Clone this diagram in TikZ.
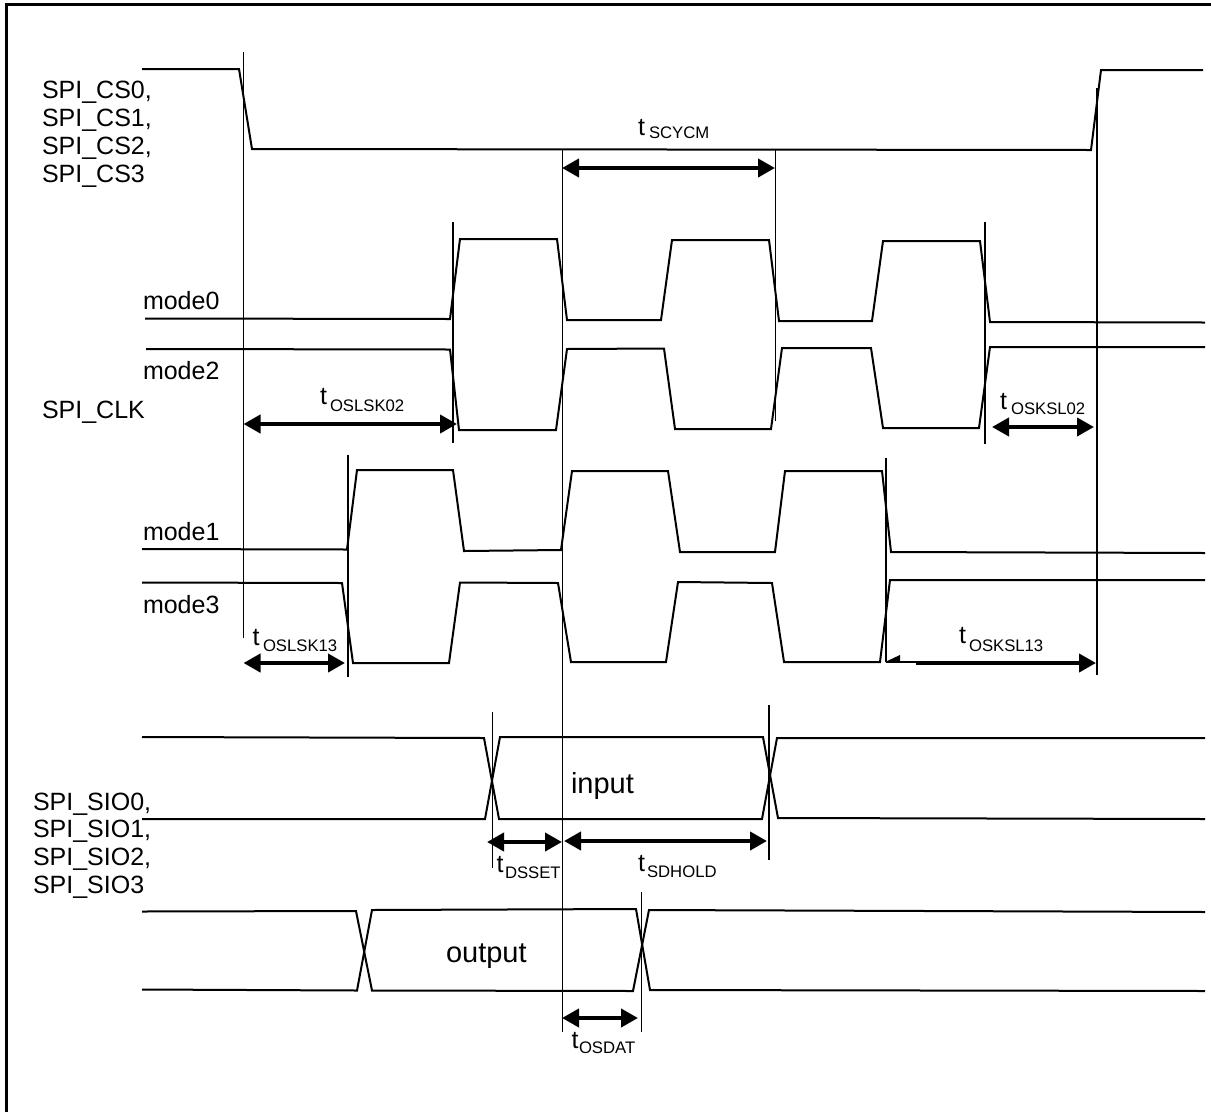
\documentclass[tikz,border=0pt]{standalone}
\usepackage{fontspec}
\setmainfont{Liberation Sans}
\usetikzlibrary{arrows.meta}
\tikzset{
  lbl/.style={inner sep=0pt,outer sep=0pt,anchor=base west,font=\fontsize{25}{27}\selectfont,text=black},
  big/.style={lbl,font=\fontsize{29}{31}\selectfont},
  subs/.style={lbl,font=\fontsize{16.7}{18}\selectfont},
  wave/.style={line width=2pt,line join=miter,black},
  guide/.style={line width=1.2pt,black},
  frameline/.style={line width=3pt,black},
  dim/.style={line width=4pt,{Triangle[length=17pt,width=18pt]}-{Triangle[length=17pt,width=18pt]}},
}
\begin{document}
\begin{tikzpicture}[x=1pt,y=-1pt]
\useasboundingbox (0,0) rectangle (1211,1112);
% frame
\draw[frameline] (6,1112) -- (6,4) -- (1211,4);
% chip select
\draw[wave] (142,69) -- (239,69) -- (252,149) -- (1091,150) -- (1101,70) -- (1203,70);
% clock mode0 / mode2
\draw[wave] (145,318.5) -- (450,319) -- (460,239) -- (557,239) -- (567,320) -- (661,320) -- (672,240) -- (769,240) -- (779,321) -- (872,321) -- (883,241) -- (980,241) -- (990,322) -- (1205,322.5);
\draw[wave] (146,349) -- (450,349.5) -- (459,430) -- (556,430) -- (567,349) -- (664,348.5) -- (675,429) -- (771,429) -- (782,348) -- (871,348) -- (883,428) -- (979,428) -- (990,347) -- (1205,347);
% clock mode1 / mode3
\draw[wave] (142,549) -- (347,549.5) -- (357,470) -- (453,470) -- (464,551) -- (561,550) -- (572,471) -- (668,471) -- (680,552) -- (775,552) -- (785,471) -- (882,471) -- (891,552) -- (1205,553);
\draw[wave] (142,582.5) -- (342,583) -- (353,663) -- (449,663) -- (460,582.5) -- (558,583) -- (571,662) -- (666,662) -- (678,582) -- (772,583) -- (784,662) -- (880,662) -- (890,580) -- (1205,580);
% input data
\draw[wave] (142,737) -- (484,738) -- (499,819) -- (762,819) -- (777,738) -- (1205,738);
\draw[wave] (142,819) -- (485,819) -- (500,737) -- (763,737) -- (778,818) -- (1205,819);
% output data
\draw[wave] (142,911.5) -- (356,911) -- (372,990.5) -- (633,991) -- (649,910) -- (1205,912);
\draw[wave] (142,989.5) -- (357,990.5) -- (372,910) -- (636,909) -- (650,990) -- (1205,991);
% guides
\draw[guide] (243.5,52) -- (243.5,638);
\draw[guide] (1097,88) -- (1097,675);
\draw[guide] (562.5,149) -- (562.5,1032);
\draw[guide] (775.5,149) -- (775.5,421);
\draw[guide] (453,222) -- (453,443);
\draw[guide] (985,222) -- (985,444);
\draw[guide] (348,455) -- (348,677);
\draw[guide] (886,458) -- (886,662);
\draw[guide] (492.5,712) -- (492.5,868);
\draw[guide] (769,705) -- (769,860);
\draw[guide] (641.5,892) -- (641.5,1032);
% dimension arrows
\draw[dim] (562,168) -- (775,168);
\draw[dim] (243.5,424) -- (457,424);
\draw[dim] (992,427) -- (1094,427);
\draw[dim] (243.5,663) -- (345,663);
\draw[dim] (487,842) -- (562,842);
\draw[dim] (564,841) -- (767,841);
\draw[dim] (562,1018) -- (638,1018);
\draw[line width=1.2pt] (886,662) -- (916,662);
\fill (885,662) -- (900,655) -- (900,662) -- cycle;
\draw[line width=4pt,-{Triangle[length=17pt,width=18pt]}] (916,663) -- (1096,663);
% signal labels
\node[lbl] (cs0) at (42,98) {SPI\_CS0,};
\node[lbl] (cs1) at (42,126) {SPI\_CS1,};
\node[lbl] (cs2) at (42,154) {SPI\_CS2,};
\node[lbl] (cs3) at (42,182) {SPI\_CS3};
\node[lbl] (m0) at (143,309) {mode0};
\node[lbl] (m2) at (143,379) {mode2};
\node[lbl] (clk) at (42,418) {SPI\_CLK};
\node[lbl] (m1) at (143,540) {mode1};
\node[lbl] (m3) at (143,613) {mode3};
\node[lbl] (sio0) at (33,810) {SPI\_SIO0,};
\node[lbl] (sio1) at (33,837) {SPI\_SIO1,};
\node[lbl] (sio2) at (33,865) {SPI\_SIO2,};
\node[lbl] (sio3) at (33,893) {SPI\_SIO3};
\node[big] (inp) at (571,793) {input};
\node[big] (outp) at (446,962) {output};
% timing labels
\node[lbl] (t1) at (638,135) {t};
\node[subs] (s1) at (649,138) {SCYCM};
\node[lbl] (t2) at (320,404) {t};
\node[subs] (s2) at (330,411) {OSLSK02};
\node[lbl] (t3) at (1000,409) {t};
\node[subs] (s3) at (1011,414) {OSKSL02};
\node[lbl] (t4) at (252.5,645) {t};
\node[subs] (s4) at (263,651) {OSLSK13};
\node[lbl] (t5) at (959,643) {t};
\node[subs] (s5) at (969,651) {OSKSL13};
\node[lbl] (t6) at (496.5,872) {t};
\node[subs] (s6) at (505,878) {DSSET};
\node[lbl] (t7) at (638,871) {t};
\node[subs] (s7) at (647,877) {SDHOLD};
\node[lbl] (t8) at (571.5,1048) {t};
\node[subs] (s8) at (579,1053) {OSDAT};
\end{tikzpicture}
\end{document}
